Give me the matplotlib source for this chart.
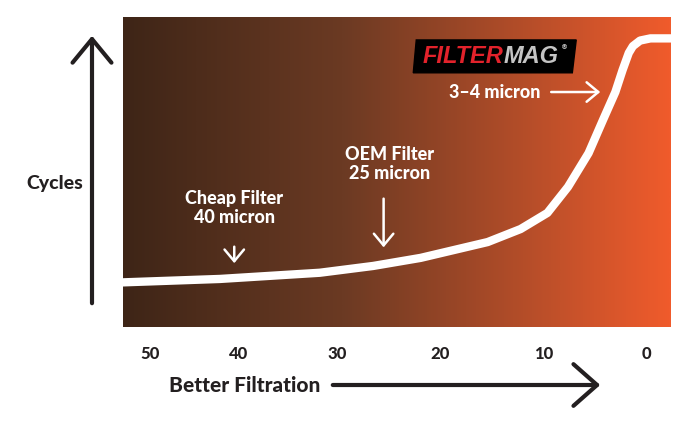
import matplotlib.pyplot as plt
import numpy as np
from matplotlib.colors import LinearSegmentedColormap
from matplotlib.patches import Polygon, FancyArrowPatch

plt.rcParams['font.family'] = ['Lato', 'DejaVu Sans']
plt.rcParams['font.weight'] = 'black'

# curve (micron -> cycles, arbitrary 0-100 scale)
micron = [50.8, 41.4, 31.7, 26.5, 21.9, 15.4, 12.2, 9.6, 7.6, 5.6, 4.2, 3.0,
          2.3, 1.7, 1.3, 0.6, -0.4, -2.4]
cycles = [14.4, 15.5, 17.5, 19.7, 22.3, 27.4, 31.6, 36.8, 45.2, 56.1, 66.8, 75.8,
          82.9, 88.4, 90.6, 92.4, 93.1, 93.1]

tick_pos = [48.2, 39.6, 30, 20, 10, 0]
tick_labels = ["50", "40", "30", "20", "10", "0"]

XLIM = (50.8, -2.4)
YLIM = (0, 100)

fig = plt.figure(figsize=(7, 4.25), dpi=100)
ax = fig.add_axes([123/700, 1-327/425, 548/700, 310/425])

cmap = LinearSegmentedColormap.from_list(
    "filt", [(0, "#3e2517"), (0.4, "#6b3a23"), (0.8, "#c3512a"), (1, "#f05b2c")])
grad = np.linspace(0, 1, 512).reshape(1, -1)
ax.imshow(grad, extent=[XLIM[0], XLIM[1], YLIM[0], YLIM[1]], aspect='auto',
          cmap=cmap, zorder=0)

ax.plot(micron, cycles, color="white", lw=6, solid_joinstyle='round', zorder=2)

ax.set_xlim(XLIM)
ax.set_ylim(YLIM)
ax.set_xticks(tick_pos)
ax.set_xticklabels(tick_labels, fontsize=12, fontweight='black', color="#231f20")
ax.tick_params(axis='x', length=0, pad=14)
ax.set_yticks([])
for s in ax.spines.values():
    s.set_visible(False)

# annotations
white = dict(color="white", fontsize=13, fontweight='black', ha='center', va='center')
small_arrow = dict(arrowstyle="->,head_length=0.6,head_width=0.5",
                   color="white", lw=1.8, mutation_scale=14)
ax.text(40.0, 38.4, "Cheap Filter\n40 micron", linespacing=1.2, **white)
ax.annotate("", xy=(40.0, 19.7), xytext=(40.0, 26.8), arrowprops=small_arrow)
ax.text(24.9, 52.6, "OEM Filter\n25 micron", linespacing=1.2, **white)
ax.annotate("", xy=(25.5, 24.8), xytext=(25.5, 42.3), arrowprops=small_arrow)
ax.text(14.7, 75.8, "3\u20134 micron", **white)
ax.annotate("", xy=(4.2, 75.8), xytext=(9.5, 75.8), arrowprops=small_arrow)

# logo
ax.add_patch(Polygon([(22.33, 92.6), (6.80, 92.6), (7.18, 82.0), (22.62, 82.0)],
                     closed=True, color="black", zorder=3))
ax.text(13.9, 87.3, "FILTER", color="#e2222b", fontsize=17, fontweight='heavy',
        style='italic', family='Liberation Sans', ha='right', va='center', zorder=4)
ax.text(13.9, 87.3, "MAG", color="#c4c4c4", fontsize=17, fontweight='heavy',
        style='italic', family='Liberation Sans', ha='left', va='center', zorder=4)
ax.text(7.9, 90.2, "\u00ae", color="#c4c4c4", fontsize=5, family='DejaVu Sans',
        ha='center', va='center', zorder=4)

# outer axis arrows
dark = "#231f20"
fig.text(55/700, 1-183/425, "Cycles", color=dark, fontsize=14, fontweight='black',
         ha='center', va='center')
fig.add_artist(FancyArrowPatch(
    (92/700, 1-306/425), (92/700, 1-33/425), transform=fig.transFigure,
    arrowstyle="->,head_length=0.85,head_width=0.7", mutation_scale=20,
    color=dark, lw=3))
fig.text(245/700, 1-385/425, "Better Filtration", color=dark, fontsize=15,
         fontweight='black', ha='center', va='center')
fig.add_artist(FancyArrowPatch(
    (330/700, 1-385/425), (603/700, 1-385/425), transform=fig.transFigure,
    arrowstyle="->,head_length=0.85,head_width=0.75", mutation_scale=20,
    color=dark, lw=3))

fig.savefig("out.png", dpi=100)
